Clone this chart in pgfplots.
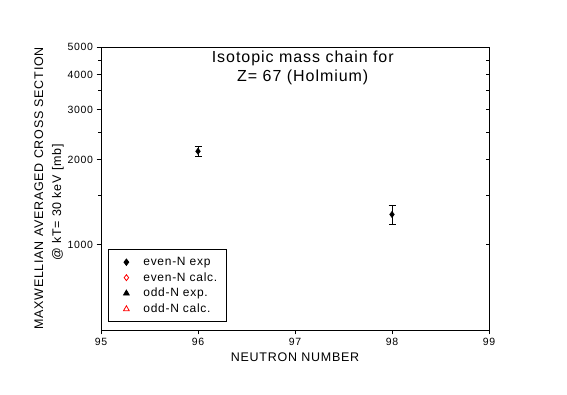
\documentclass[border=0pt]{standalone}
\usepackage{fontspec}
\setmainfont[LetterSpace=6]{Liberation Sans}
\usepackage{pgfplots}
\pgfplotsset{compat=1.18}
\begin{document}
\begin{tikzpicture}[x=1pt,y=1pt]
\path[use as bounding box, fill=white] (0,0) rectangle (567,395);
\begin{axis}[
  at={(101pt,65pt)}, anchor=south west,
  scale only axis, width=388pt, height=283pt,
  xmin=95, xmax=99, ymin=500, ymax=5000,
  ymode=log,
  xtick={95,96,97,98,99},
  ytick={1000,2000,3000,4000,5000},
  yticklabels={1000,2000,3000,4000,5000},
  minor ytick={1500,2500,3500,4500},
  xtick pos=bottom, ytick pos=left,
  tick align=outside,
  major tick length=4.5pt, minor tick length=2.7pt,
  every tick/.style={black, line width=0.8pt},
  axis line style={line width=0.9pt},
  /pgf/number format/assume math mode=true,
  ticklabel style={font=\fontsize{10.5}{12}\selectfont},
  xlabel={NEUTRON NUMBER},
  xlabel style={font=\fontsize{12.5}{15}\selectfont},
  ylabel={MAXWELLIAN AVERAGED CROSS SECTION\\@ kT= 30 keV [mb]\hspace*{28pt}},
  ylabel style={font=\fontsize{12.5}{18}\selectfont, align=center, at={(axis description cs:-0.134,0.5)}, anchor=center},
  legend style={at={(axis description cs:0.018,0.028)}, anchor=south west, draw=black, line width=0.8pt,
    font=\fontsize{12}{14}\selectfont, row sep=1.5pt, inner xsep=7pt, inner ysep=5.5pt},
  legend cell align=left,
  legend image code/.code={\path[draw=none,fill=none] (0pt,0pt) -- (26pt,0pt); \draw[#1] plot coordinates {(11pt,0pt)};},
]
\addplot[only marks, mark=diamond*, mark size=3.2pt, black,
  error bars/.cd, y dir=both, y explicit,
  error mark options={rotate=90, mark size=3.5pt, line width=0.8pt, black},
  error bar style={line width=0.8pt, black}]
  coordinates {(96,2140) +- (0,95) (98,1280) +- (0,103)};
\addlegendentry{even-N exp}
\addlegendimage{only marks, mark=diamond, mark size=3pt, red, mark options={line width=0.8pt}}
\addlegendentry{even-N calc.}
\addlegendimage{only marks, mark=triangle*, mark size=3.3pt, black}
\addlegendentry{odd-N exp.}
\addlegendimage{only marks, mark=triangle, mark size=3.3pt, red, mark options={line width=0.8pt}}
\addlegendentry{odd-N calc.}
\node[align=center, font=\fontsize{16}{19}\selectfont] at (axis description cs:0.52,0.926) {Isotopic mass chain for\\Z= 67 (Holmium)};
\end{axis}
\begin{axis}[
  at={(101pt,65pt)}, anchor=south west,
  scale only axis, width=388pt, height=283pt,
  xmin=95, xmax=99, ymin=500, ymax=5000,
  ymode=log,
  axis x line=none, axis y line*=right,
  ytick={1000,2000,3000,4000,5000},
  minor ytick={1500,2500,3500,4500},
  yticklabels={},
  tick align=inside,
  major tick length=3.5pt, minor tick length=3.5pt,
  every tick/.style={black, line width=0.8pt},
  axis line style={line width=0.9pt},
]
\end{axis}
\end{tikzpicture}
\end{document}
